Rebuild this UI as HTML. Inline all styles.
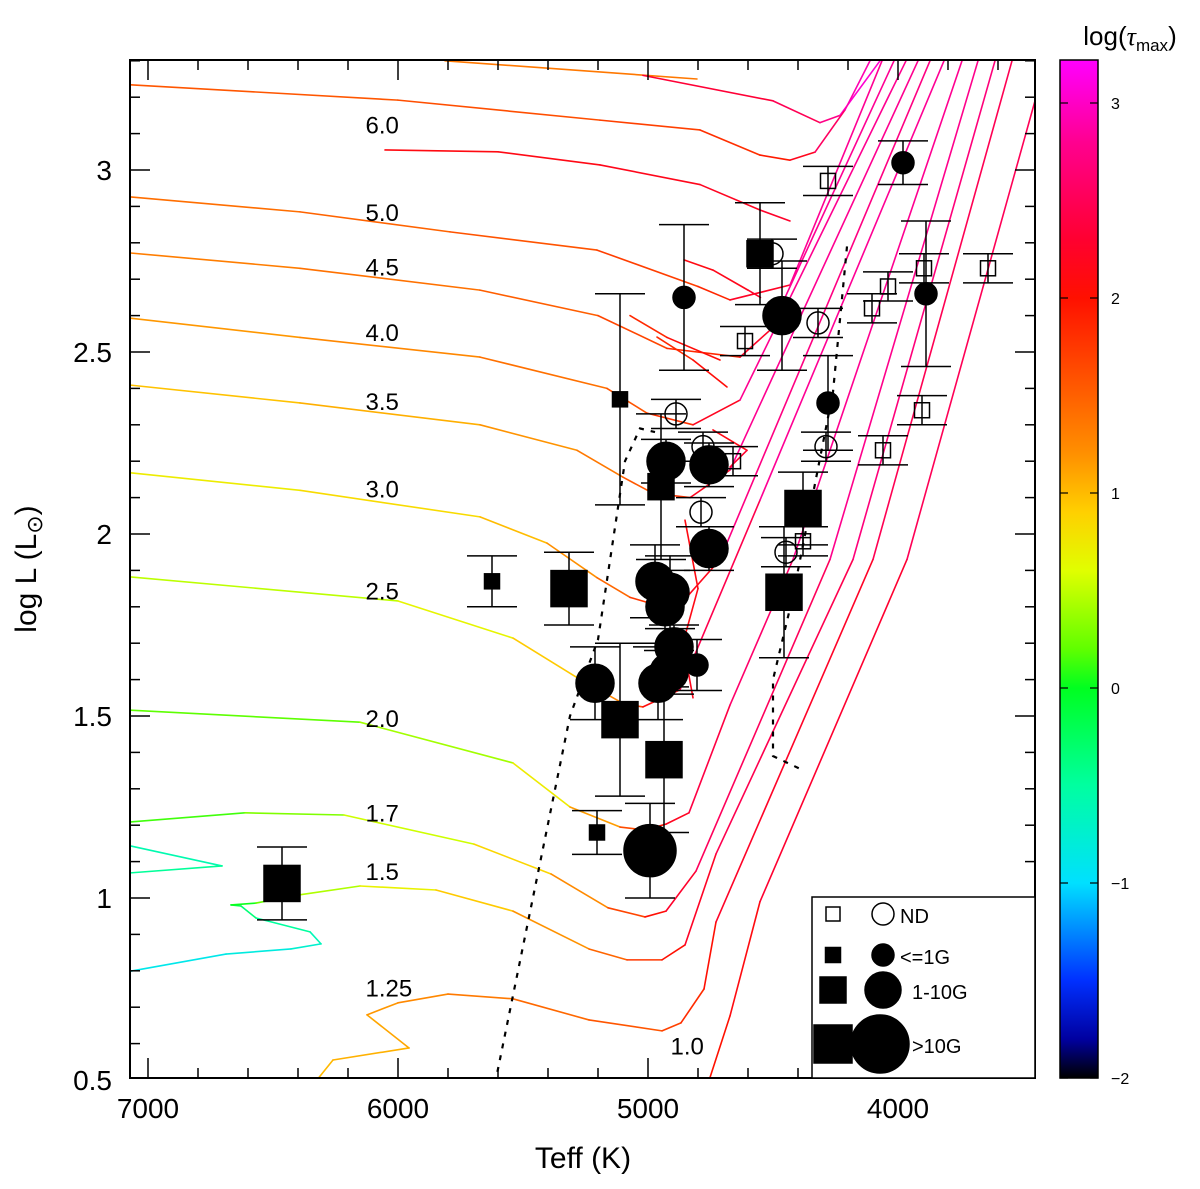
<!DOCTYPE html>
<html><head><meta charset="utf-8">
<style>
body{margin:0;background:#fff;}
svg text{font-family:"Liberation Sans","DejaVu Sans",sans-serif;fill:#000;}
</style></head>
<body>
<svg id="chart" width="1200" height="1184" viewBox="0 0 1200 1184" xmlns="http://www.w3.org/2000/svg">
<defs>
<linearGradient id="cbgrad" x1="0" y1="1" x2="0" y2="0"></linearGradient>
<clipPath id="plotclip"><rect x="130" y="60" width="905" height="1018"/></clipPath>
</defs>
<g id="tracks" clip-path="url(#plotclip)"></g>
<g id="dotted" clip-path="url(#plotclip)"></g>
<g id="points" clip-path="url(#plotclip)"></g>
<g id="axes"></g>
<g id="labels"></g>
<g id="legend"></g>
<g id="cbar"></g>
</svg>
<script>
// ---- data ----
const xTicks=[7000,6000,5000,4000];
const yTicks=[0.5,1,1.5,2,2.5,3];
const yTickLabels=["0.5","1","1.5","2","2.5","3"];
const cbTicks=[-2,-1,0,1,2,3];
const cbTickLabels=["−2","−1","0","1","2","3"];
const trackNames=["7.0a","7.0b","6.0","5.0","4.5","4.0","3.5","3.0","2.5","2.0","1.7h","1.7","1.5","1.25","1.0","loop5","loop45","loop40","loop35","loop30","loop25"];
const trackTauStart=[1.3,2.3,1.55,1.4,1.3,1.15,0.95,0.7,0.45,0.15,-0.6,0.1,-0.9,1.0,2.0,2.1,2.1,1.8,1.8,2.1,2.1];
const trackTauMin=[1.45,2.6,2.0,1.95,1.95,1.9,1.9,1.9,1.9,1.9,-0.4,1.9,1.9,1.9,2.0,2.3,2.3,2.2,2.2,2.4,2.2];
const trackTauEnd=[1.45,3.2,3.1,3.1,3.1,3.1,3.1,3.0,3.0,2.9,-0.4,2.9,2.8,2.6,2.6,2.3,2.3,2.2,2.2,2.4,2.2];
const trackMinIdx=[1,2,5,5,5,5,6,6,5,5,2,6,15,10,1,5,3,2,2,2,3];
const tracks=[
 [[5812,3.30],[4804,3.25]],
 [[5020,3.26],[4500,3.19],[4312,3.13],[4232,3.15],[4072,3.30]],
 [[7070,3.234],[6000,3.192],[5192,3.137],[4792,3.11],[4552,3.041],[4432,3.027],[4332,3.049],[4212,3.165],[4112,3.30]],
 [[7070,2.926],[6392,2.885],[5792,2.83],[5204,2.78],[4800,2.68],[4672,2.643],[4432,2.684],[4064,3.30]],
 [[7070,2.772],[6392,2.73],[5672,2.67],[5200,2.60],[4924,2.51],[4632,2.486],[4512,2.56],[4016,3.30]],
 [[7070,2.593],[6392,2.54],[5672,2.486],[5164,2.40],[5004,2.332],[4820,2.30],[4632,2.368],[3968,3.30]],
 [[7070,2.409],[6392,2.36],[5672,2.30],[5284,2.23],[5100,2.156],[4980,2.112],[4832,2.10],[4672,2.176],[3920,3.30]],
 [[7070,2.168],[6392,2.12],[5672,2.047],[5404,1.975],[5204,1.88],[5072,1.826],[4892,1.79],[4712,1.93],[3872,3.30]],
 [[7070,1.882],[6000,1.816],[5540,1.714],[5280,1.604],[5096,1.533],[5020,1.525],[4872,1.572],[4552,2.093],[3816,3.30]],
 [[7070,1.516],[6152,1.483],[5540,1.371],[5312,1.25],[5112,1.195],[5012,1.187],[4928,1.203],[4836,1.234],[4672,1.53],[4420,1.93],[3744,3.30]],
 [[7070,1.143],[6704,1.088],[7070,1.069]],
 [[7070,1.209],[6612,1.234],[6216,1.228],[5696,1.148],[5388,1.066],[5160,0.973],[5012,0.948],[4928,0.964],[4808,1.074],[4272,1.93],[3680,3.30]],
 [[7070,0.799],[6688,0.846],[6428,0.860],[6308,0.874],[6352,0.907],[6568,0.945],[6628,0.978],[6668,0.981],[6568,0.986],[6400,1.008],[6152,1.033],[5848,1.022],[5540,0.964],[5236,0.860],[5084,0.830],[4944,0.830],[4852,0.871],[4728,1.121],[4180,1.93],[3612,3.30]],
 [[6336,0.49],[6260,0.555],[5956,0.588],[6124,0.679],[6000,0.712],[5800,0.736],[5540,0.723],[5236,0.665],[4944,0.635],[4868,0.657],[4776,0.75],[4728,0.934],[4100,1.93],[3544,3.30]],
 [[4760,0.49],[4672,0.676],[4552,0.99],[3964,1.93],[3452,3.19]],
 [[6052,3.055],[5600,3.05],[5192,3.014],[4792,2.96],[4552,2.89],[4432,2.86]],
 [[4856,2.753],[4740,2.725],[4600,2.67],[4550,2.65]],
 [[5072,2.60],[4924,2.54],[4712,2.478]],
 [[4964,2.541],[4820,2.478],[4684,2.404]],
 [[4740,2.286],[4604,2.23],[4672,2.184]],
 [[4852,2.038],[4800,1.85],[4860,1.70],[4820,1.55]]
];
const massLabels=["6.0","5.0","4.5","4.0","3.5","3.0","2.5","2.0","1.7","1.5","1.25","1.0"];
const massLabelT=[6130,6130,6130,6130,6130,6130,6130,6130,6130,6130,6130,4910];
const massLabelL=[3.10,2.86,2.71,2.53,2.34,2.10,1.82,1.47,1.21,1.05,0.73,0.57];
const dottedLeft=[[5612,0.49],[5312,1.50],[5200,1.71],[5092,2.20],[5032,2.29],[4972,2.28]];
const dottedRight=[[4204,2.79],[4260,2.39],[4340,2.11],[4420,1.83],[4500,1.60],[4500,1.39],[4392,1.355]];
const starT=[4280,4612,4104,4040,3896,3640,3904,4060,4380,4660, 4888,4780,4788,4320,4288,4448,4504, 3980,4856,4280,3888,4804, 5624,5112,5204, 4552,4948, 5316,6464,5112,4936,4380,4456, 4464,4928,4756,4756,4972,4912,4932,4896,4960,5212,4916, 4992];
const starL=[2.97,2.53,2.62,2.68,2.73,2.73,2.34,2.23,1.98,2.20, 2.33,2.24,2.06,2.58,2.24,1.95,2.77, 3.02,2.65,2.36,2.66,1.64, 1.87,2.37,1.18, 2.77,2.13, 1.85,1.04,1.49,1.38,2.07,1.84, 2.60,2.20,2.19,1.96,1.87,1.84,1.80,1.69,1.59,1.59,1.62, 1.13];
const starShape=["s","s","s","s","s","s","s","s","s","s", "c","c","c","c","c","c","c", "c","c","c","c","c", "s","s","s", "s","s", "s","s","s","s","s","s", "c","c","c","c","c","c","c","c","c","c","c", "c"];
const starClass=[0,0,0,0,0,0,0,0,0,0, 0,0,0,0,0,0,0, 1,1,1,1,1, 1,1,1, 2,2, 3,3,3,3,3,3, 2,2,2,2,2,2,2,2,2,2,2, 3];
const starErr=[0.04,0.04,0.04,0.04,0.04,0.04,0.04,0.04,0.04,0.04, 0.04,0.04,0.04,0.04,0.04,0.04,0.04, 0.06,0.2,0.13,0.2,0.07, 0.07,0.29,0.06, 0.14,0.2, 0.1,0.1,0.21,0.2,0.1,0.18, 0.15,0.06,0.06,0.06,0.1,0.1,0.1,0.06,0.1,0.1,0.06, 0.13];
const legendLabels=["ND","<=1G","1-10G",">10G"];

// ---- scales ----
const X0=130,X1=1035,Y0=60,Y1=1078;
function sx(T){return 148+(7000-T)*0.25;}
function sy(L){return 170+(3-L)*364;}
function cy(v){return 1078-(v+2)*(1078-103)/5;}
const cmapV=[-2,-1.8,-1.5,-1.0,-0.5,0,0.2,0.6,0.9,1.2,1.6,2.0,2.3,2.8,3.22];
const cmapC=[[0,0,0],[0,0,160],[0,48,255],[0,224,255],[0,255,160],[0,255,32],[96,255,0],[224,255,0],[255,208,0],[255,144,0],[255,80,0],[255,16,0],[255,0,48],[255,0,144],[255,0,255]];
function cmap(v){
 if(v<=cmapV[0])return cmapC[0];
 for(let i=1;i<cmapV.length;i++){if(v<=cmapV[i]){const f=(v-cmapV[i-1])/(cmapV[i]-cmapV[i-1]);return cmapC[i-1].map((c,k)=>Math.round(c+(cmapC[i][k]-c)*f));}}
 return cmapC[cmapC.length-1];
}
const NS="http://www.w3.org/2000/svg";
function mk(tag,attrs,parent){const e=document.createElementNS(NS,tag);for(const k in attrs)e.setAttribute(k,attrs[k]);parent.appendChild(e);return e;}

// ---- tracks ----
const gT=document.getElementById('tracks');
tracks.forEach((tr,ti)=>{
 const g=mk('g',{},gT);
 
 
 const mi=trackMinIdx[ti];
 for(let i=0;i<tr.length-1;i++){
  let tau;
  const m=(i+0.5);
  if(m<mi) tau=trackTauStart[ti]+(trackTauMin[ti]-trackTauStart[ti])*Math.pow(m/mi,1.6);
  else tau=trackTauMin[ti]+(trackTauEnd[ti]-trackTauMin[ti])*((m-mi)/Math.max(1,tr.length-1-mi));
  const c=cmap(tau);
  const seg=mk('line',{x1:sx(tr[i][0]),y1:sy(tr[i][1]),x2:sx(tr[i+1][0]),y2:sy(tr[i+1][1]),stroke:`rgb(${c})`,'stroke-width':1.6,'stroke-linecap':'round'},g);
  
  
 }
});
// ---- dotted ----
const gD=document.getElementById('dotted');
[dottedLeft,dottedRight].forEach((d,i)=>{
 const p=mk('polyline',{points:d.map(q=>sx(q[0])+','+sy(q[1])).join(' '),fill:'none',stroke:'#000','stroke-width':2.2,'stroke-dasharray':'5 7'},gD);
 
 
});
// ---- stars ----
const gP=document.getElementById('points');
const sqSize=[15,15,26,36], ciR=[11,11,19,26];
starT.forEach((T,i)=>{
 const x=sx(T),y=sy(starL[i]),e=starErr[i]*364;
 const g=mk('g',{},gP);
 
 
 mk('line',{x1:x,y1:y-e,x2:x,y2:y+e,stroke:'#000','stroke-width':1.5},g);
 mk('line',{x1:x-25,y1:y-e,x2:x+25,y2:y-e,stroke:'#000','stroke-width':1.5},g);
 mk('line',{x1:x-25,y1:y+e,x2:x+25,y2:y+e,stroke:'#000','stroke-width':1.5},g);
 const cls=starClass[i],fill=cls===0?'none':'#000';
 if(starShape[i]==='s'){const s=sqSize[cls];mk('rect',{x:x-s/2,y:y-s/2,width:s,height:s,fill:fill,stroke:'#000','stroke-width':1.5},g);}
 else mk('circle',{cx:x,cy:y,r:ciR[cls],fill:fill,stroke:'#000','stroke-width':1.5},g);
});
// ---- axes ----
const gA=document.getElementById('axes');
const fr=mk('rect',{x:X0,y:Y0,width:X1-X0,height:Y1-Y0,fill:'none',stroke:'#000','stroke-width':2},gA);

for(let T=7000;T>=3600;T-=200){
 const x=sx(T),big=(T%1000===0),len=big?20:10;
 mk('line',{x1:x,y1:Y1,x2:x,y2:Y1-len,stroke:'#000','stroke-width':1.5},gA);
 mk('line',{x1:x,y1:Y0,x2:x,y2:Y0+len,stroke:'#000','stroke-width':1.5},gA);
}
for(let k=5;k<=33;k++){
 const L=k/10,y=sy(L),big=(k%5===0),len=big?20:10;
 if(y<Y0-1||y>Y1+1)continue;
 mk('line',{x1:X0,y1:y,x2:X0+len,y2:y,stroke:'#000','stroke-width':1.5},gA);
 mk('line',{x1:X1,y1:y,x2:X1-len,y2:y,stroke:'#000','stroke-width':1.5},gA);
}
xTicks.forEach(T=>{const t=mk('text',{x:sx(T),y:1118,'font-size':28,'text-anchor':'middle'},gA);t.textContent=T;
 });
yTicks.forEach((L,i)=>{const t=mk('text',{x:112,y:sy(L)+10,'font-size':28,'text-anchor':'end'},gA);t.textContent=yTickLabels[i];
 });
const xt=mk('text',{x:583,y:1168,'font-size':30,'text-anchor':'middle'},gA);xt.textContent='Teff (K)';

const yt=mk('text',{x:0,y:0,'font-size':30,'text-anchor':'middle',transform:'translate(36,569) rotate(-90)'},gA);
yt.innerHTML='log L (L<tspan font-size="22" dy="6">⊙</tspan><tspan dy="-6">)</tspan>';

// ---- mass labels ----
const gL=document.getElementById('labels');
massLabels.forEach((m,i)=>{const t=mk('text',{x:sx(massLabelT[i]),y:sy(massLabelL[i]),'font-size':24,'text-anchor':'start'},gL);t.textContent=m;
 });
// ---- legend ----
const gG=document.getElementById('legend');
const lb=mk('rect',{x:812,y:897,width:223,height:181,fill:'#fff',stroke:'#000','stroke-width':1.5},gG);

const legY=[914,955,990,1044],legSq=[14,15,26,38],legR=[11,11,18,29],legTx=[900,900,912,912];
legendLabels.forEach((lab,i)=>{
 const g=mk('g',{},gG);
 
 
 const f=i===0?'none':'#000';
 mk('rect',{x:833-legSq[i]/2,y:legY[i]-legSq[i]/2,width:legSq[i],height:legSq[i],fill:f,stroke:'#000','stroke-width':1.5},g);
 mk('circle',{cx:i===3?880:883,cy:legY[i],r:legR[i],fill:f,stroke:'#000','stroke-width':1.5},g);
 const t=mk('text',{x:legTx[i],y:legY[i]+9,'font-size':20},g);t.textContent=lab;
});
// ---- colorbar ----
const grad=document.getElementById('cbgrad');
cmapV.forEach((v,i)=>{mk('stop',{offset:((v+2)/5.22).toFixed(4),'stop-color':`rgb(${cmapC[i]})`},grad);});
const gC=document.getElementById('cbar');
const cr=mk('rect',{x:1060,y:60,width:38,height:1018,fill:'url(#cbgrad)',stroke:'#000','stroke-width':1.5},gC);

cbTicks.forEach((v,i)=>{const y=cy(v);
 mk('line',{x1:1060,y1:y,x2:1068,y2:y,stroke:'#000','stroke-width':1.2},gC);
 mk('line',{x1:1098,y1:y,x2:1090,y2:y,stroke:'#000','stroke-width':1.2},gC);
 const t=mk('text',{x:1111,y:y+6,'font-size':16},gC);t.textContent=cbTickLabels[i];
 });
const ct=mk('text',{x:1130,y:45,'font-size':26,'text-anchor':'middle'},gC);
ct.innerHTML='log(<tspan font-family="Liberation Serif, serif" font-style="italic">τ</tspan><tspan font-size="17" dy="6">max</tspan><tspan dy="-6">)</tspan>';

</script>
</body></html>
